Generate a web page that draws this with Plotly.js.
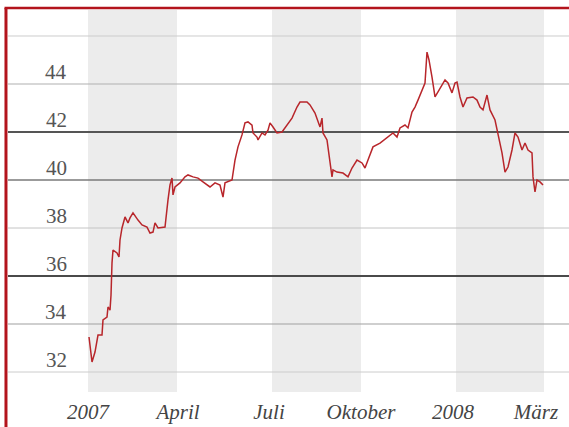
<!DOCTYPE html>
<html>
<head>
<meta charset="utf-8">
<script src="https://cdn.plot.ly/plotly-3.0.1.min.js"></script>
<style>html,body{margin:0;padding:0;background:#fff;}#chart{width:569px;height:427px;}</style>
</head>
<body>
<div id="chart"></div>
<script>
// Price series
const dates = [
'2007-01-02','2007-01-05','2007-01-08','2007-01-11','2007-01-15','2007-01-16','2007-01-20','2007-01-21','2007-01-23','2007-01-24',
'2007-01-25','2007-01-26','2007-01-30','2007-02-01','2007-02-02','2007-02-04','2007-02-07','2007-02-10','2007-02-12','2007-02-15',
'2007-02-20','2007-02-24','2007-03-01','2007-03-04','2007-03-07','2007-03-09','2007-03-12','2007-03-17','2007-03-19','2007-03-22',
'2007-03-24','2007-03-26','2007-03-27','2007-03-29','2007-04-03','2007-04-08','2007-04-11','2007-04-16','2007-04-21','2007-04-26',
'2007-05-03','2007-05-08','2007-05-13','2007-05-16','2007-05-18','2007-05-25','2007-05-28','2007-05-31','2007-06-04','2007-06-07',
'2007-06-10','2007-06-14','2007-06-15','2007-06-19','2007-06-20','2007-06-24','2007-06-27','2007-06-30','2007-07-02','2007-07-05',
'2007-07-09','2007-07-14','2007-07-19','2007-07-24','2007-07-29','2007-08-01','2007-08-08','2007-08-11','2007-08-16','2007-08-21',
'2007-08-23','2007-08-24','2007-08-28','2007-08-31','2007-09-02','2007-09-03','2007-09-07','2007-09-13','2007-09-18','2007-09-22',
'2007-09-27','2007-10-02','2007-10-05','2007-10-08','2007-10-13','2007-10-20','2007-10-27','2007-11-02','2007-11-06','2007-11-09',
'2007-11-14','2007-11-17','2007-11-21','2007-11-24','2007-11-27','2007-12-01','2007-12-04','2007-12-06','2007-12-08','2007-12-11',
'2007-12-12','2007-12-14','2007-12-17','2007-12-21','2007-12-24','2007-12-27','2007-12-31','2008-01-03','2008-01-05','2008-01-08',
'2008-01-11','2008-01-15','2008-01-21','2008-01-25','2008-01-28','2008-01-31','2008-02-04','2008-02-05','2008-02-07','2008-02-12',
'2008-02-15','2008-02-19','2008-02-22','2008-02-25','2008-02-29','2008-03-03','2008-03-06','2008-03-10','2008-03-13','2008-03-16',
'2008-03-20','2008-03-21','2008-03-23','2008-03-25','2008-03-28','2008-03-31'
];
const prices = [
33.46,32.42,32.83,33.54,33.54,34.17,34.29,34.71,34.58,35.2,
36.54,37.08,36.96,36.79,37.5,38.0,38.46,38.21,38.42,38.63,
38.33,38.13,38.04,37.79,37.83,38.21,38.0,38.04,38.04,39.17,
39.8,40.08,39.38,39.71,39.88,40.13,40.21,40.13,40.08,39.92,
39.71,39.88,39.79,39.29,39.88,40.0,40.83,41.38,41.88,42.38,
42.42,42.29,41.96,41.79,41.67,41.96,41.88,42.08,42.38,42.21,
41.96,42.0,42.29,42.58,43.04,43.25,43.25,43.13,42.79,42.21,
42.58,41.96,41.67,40.83,40.13,40.42,40.33,40.29,40.13,40.5,
40.83,40.71,40.5,40.83,41.38,41.54,41.75,41.96,41.79,42.17,
42.29,42.17,42.83,43.04,43.33,43.75,44.04,45.33,45.0,44.29,
44.04,43.46,43.67,43.96,44.17,44.04,43.63,44.04,44.08,43.46,
43.04,43.42,43.46,43.33,43.04,42.92,43.54,43.33,42.92,42.5,
41.96,41.13,40.33,40.54,41.25,41.96,41.79,41.25,41.54,41.25,
41.13,40.13,39.5,40.0,39.92,39.79
];

// Axis ticks
const xTickVals = ['2007-01-01','2007-04-01','2007-07-01','2007-10-01','2008-01-01','2008-03-24'];
const xTickText = ['2007','April','Juli','Oktober','2008','März'];
const yTickVals = [32,34,36,38,40,42,44];
const yTickText = ['32','34','36','38','40','42','44'];

// Gridlines
const gridVals = [32,34,36,38,40,42,44,46];
const gridColors = ['#cccccc','#a0a0a0','#4a4a4a','#c4c4c4','#7a7a7a','#555555','#b0b0b0','#cccccc'];
const gridWidths = [1,1.2,2,1,1.5,2,1.2,1];

// Shaded quarters
const bandStarts = ['2007-01-01','2007-07-04','2008-01-04'];
const bandEnds   = ['2007-03-31','2007-10-01','2008-04-01'];

const shapes = [];
bandStarts.forEach((s,i)=>shapes.push({type:'rect',xref:'x',yref:'paper',x0:s,x1:bandEnds[i],y0:0,y1:1,
  fillcolor:'#ececec',line:{width:0},layer:'below'}));
gridVals.forEach((v,i)=>shapes.push({type:'line',xref:'paper',yref:'y',x0:0,x1:1,y0:v,y1:v,
  line:{color:gridColors[i],width:gridWidths[i]},layer:'below'}));
// red frame
shapes.push({type:'line',xref:'paper',yref:'paper',x0:-0.0036,x1:-0.0036,y0:-0.1,y1:1.0055,line:{color:'#b3141c',width:3},layer:'above'});
shapes.push({type:'line',xref:'paper',yref:'paper',x0:-0.0062,x1:1.01,y0:1.0055,y1:1.0055,line:{color:'#b3141c',width:2.5},layer:'above'});

const annotations = yTickVals.map((v,i)=>({xref:'paper',yref:'y',x:0.0856,y:v,yshift:12,text:yTickText[i],
  showarrow:false,xanchor:'center',yanchor:'middle',font:{family:'Liberation Serif, serif',size:21,color:'#555'}}));

const trace = {x:dates,y:prices,type:'scatter',mode:'lines',line:{color:'#b8262b',width:1.5},hoverinfo:'skip'};

const layout = {
  width:569,height:427,
  margin:{l:8,r:0,t:10,b:35},
  paper_bgcolor:'#fff',plot_bgcolor:'rgba(0,0,0,0)',
  showlegend:false,
  xaxis:{type:'date',range:['2006-10-13','2008-04-26'],tickvals:xTickVals,ticktext:xTickText,
    showgrid:false,zeroline:false,showline:false,ticks:'',ticklabelstandoff:5,
    tickfont:{family:'Liberation Serif, serif',size:21,color:'#444',style:'italic'}},
  yaxis:{range:[31.167,47.083],showgrid:false,zeroline:false,showticklabels:false,ticks:'',showline:false},
  shapes:shapes,
  annotations:annotations
};
Plotly.newPlot('chart',[trace],layout,{displayModeBar:false,staticPlot:true});
</script>
</body>
</html>
